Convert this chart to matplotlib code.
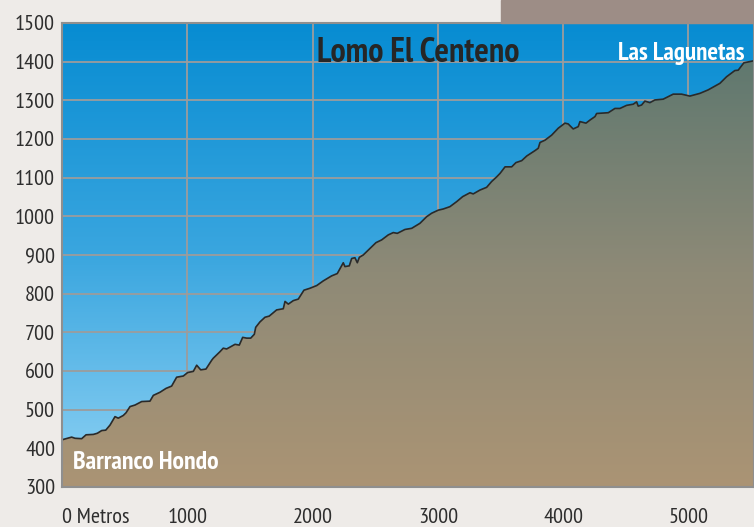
import matplotlib
matplotlib.use('Agg')
import matplotlib.pyplot as plt
import numpy as np
from matplotlib.colors import LinearSegmentedColormap
from matplotlib.patches import Polygon, Rectangle

# Elevation profile (distance in metres, altitude in metres)
distancia = [0, 10, 77, 104, 157, 192, 250, 282, 317, 349, 383, 423, 449, 489, 511,
             543, 583, 636, 702, 729, 782, 830, 875, 915, 968, 1003, 1048, 1075, 1107,
             1149, 1195, 1207, 1261, 1287, 1314, 1381, 1415, 1442, 1474, 1506, 1535,
             1546, 1580, 1620, 1654, 1713, 1766, 1780, 1806, 1846, 1886, 1931, 1979,
             2033, 2085, 2152, 2197, 2245, 2258, 2293, 2312, 2338, 2357, 2373, 2404,
             2452, 2506, 2551, 2604, 2644, 2676, 2737, 2791, 2857, 2910, 2950, 3003,
             3043, 3096, 3150, 3198, 3256, 3282, 3336, 3389, 3429, 3469, 3496, 3536,
             3589, 3623, 3669, 3709, 3775, 3801, 3815, 3855, 3908, 3961, 4014, 4040,
             4080, 4120, 4134, 4182, 4214, 4254, 4267, 4360, 4413, 4453, 4506, 4559,
             4586, 4599, 4626, 4652, 4692, 4732, 4798, 4878, 4945, 5011, 5091, 5157,
             5251, 5304, 5370, 5397, 5442, 5516, 5530]
altitud = [421, 423, 429, 426, 425, 435, 436, 439, 446, 447, 460, 482, 478, 485, 492,
           508, 512, 521, 522, 537, 545, 555, 561, 584, 587, 596, 599, 615, 603,
           605, 628, 633, 650, 659, 657, 669, 667, 687, 685, 685, 695,
           713, 727, 739, 742, 758, 761, 780, 773, 782, 786, 809, 814,
           821, 833, 846, 852, 880, 870, 872, 891, 893, 880, 894, 900,
           915, 932, 939, 952, 958, 956, 966, 969, 982, 999, 1008, 1016,
           1019, 1025, 1038, 1051, 1061, 1058, 1068, 1075, 1090, 1102, 1111, 1128,
           1128, 1139, 1144, 1156, 1170, 1176, 1191, 1197, 1210, 1228, 1241, 1239,
           1226, 1232, 1245, 1241, 1249, 1258, 1266, 1268, 1279, 1279, 1287, 1290,
           1296, 1285, 1288, 1298, 1294, 1301, 1303, 1316, 1316, 1311, 1318, 1327,
           1344, 1361, 1377, 1378, 1397, 1402, 1402]

y_ticks = [300, 400, 500, 600, 700, 800, 900, 1000, 1100, 1200, 1300, 1400, 1500]
x_ticks = [0, 1000, 2000, 3000, 4000, 5000]
x_labels = ['0 Metros', '1000', '2000', '3000', '4000', '5000']

# narrow sans fonts, first installed one wins
plt.rcParams['font.family'] = ['PT Sans Narrow', 'Fira Sans Condensed',
                               'Archivo Narrow', 'DejaVu Sans']

fig = plt.figure(figsize=(7.54, 5.27), dpi=100, facecolor='#eeebe8')
# darker block at the top right
fig.patches.append(Rectangle((501 / 754, 504 / 527), 253 / 754, 23 / 527,
                             transform=fig.transFigure, color='#9d8d86', zorder=0))

ax = fig.add_axes([62 / 754, 40 / 527, 692 / 754, 464 / 527])
xmax = 5523
ax.set_xlim(0, xmax)
ax.set_ylim(300, 1500)

# sky gradient
grad = np.linspace(0, 1, 256).reshape(-1, 1)
cielo = LinearSegmentedColormap.from_list('cielo', ['#8fd2f4', '#3aa6df', '#078cd2'])
ax.imshow(grad, cmap=cielo, origin='lower', extent=[0, xmax, 300, 1500],
          aspect='auto', zorder=0)

# grid
for v in y_ticks:
    ax.axhline(v, color='#9c9c9c', lw=1.3, zorder=1)
for v in x_ticks:
    ax.axvline(v, color='#9c9c9c', lw=1.3, zorder=1)

# terrain with gradient, clipped to the profile
verts = [(0, 300)] + list(zip(distancia, altitud)) + [(distancia[-1], 300)]
poly = Polygon(verts, closed=True, facecolor='none', edgecolor='none')
ax.add_patch(poly)
tierra = LinearSegmentedColormap.from_list('tierra', ['#ab9474', '#8e8a77', '#5f786f'])
im = ax.imshow(grad, cmap=tierra, origin='lower', extent=[0, xmax, 300, 1410],
               aspect='auto', zorder=2)
im.set_clip_path(poly)
ax.plot(distancia, altitud, color='#2a2a2a', lw=1.2, zorder=3)

for s in ax.spines.values():
    s.set_color('#8f8f8f')
    s.set_linewidth(1.5)
    s.set_zorder(4)

ax.set_yticks(y_ticks)
ax.set_yticklabels([str(v) for v in y_ticks])
ax.set_xticks(x_ticks)
ax.set_xticklabels(x_labels)
ax.tick_params(axis='both', length=0, labelsize=16, colors='#2e2e2e')
ax.tick_params(axis='y', pad=5)
ax.tick_params(axis='x', pad=15)
ax.get_xticklabels()[0].set_horizontalalignment('left')

ax.text(0.514, 0.935, 'Lomo El Centeno', transform=ax.transAxes, ha='center',
        va='center', fontsize=24.5, fontweight='bold', color='#262626', zorder=5)
ax.text(0.986, 0.935, 'Las Lagunetas', transform=ax.transAxes, ha='right',
        va='center', fontsize=18, fontweight='bold', color='white', zorder=5)
ax.text(0.016, 0.052, 'Barranco Hondo', transform=ax.transAxes, ha='left',
        va='center', fontsize=18.5, fontweight='bold', color='white', zorder=5)

plt.savefig('out.png', dpi=100, facecolor=fig.get_facecolor())
